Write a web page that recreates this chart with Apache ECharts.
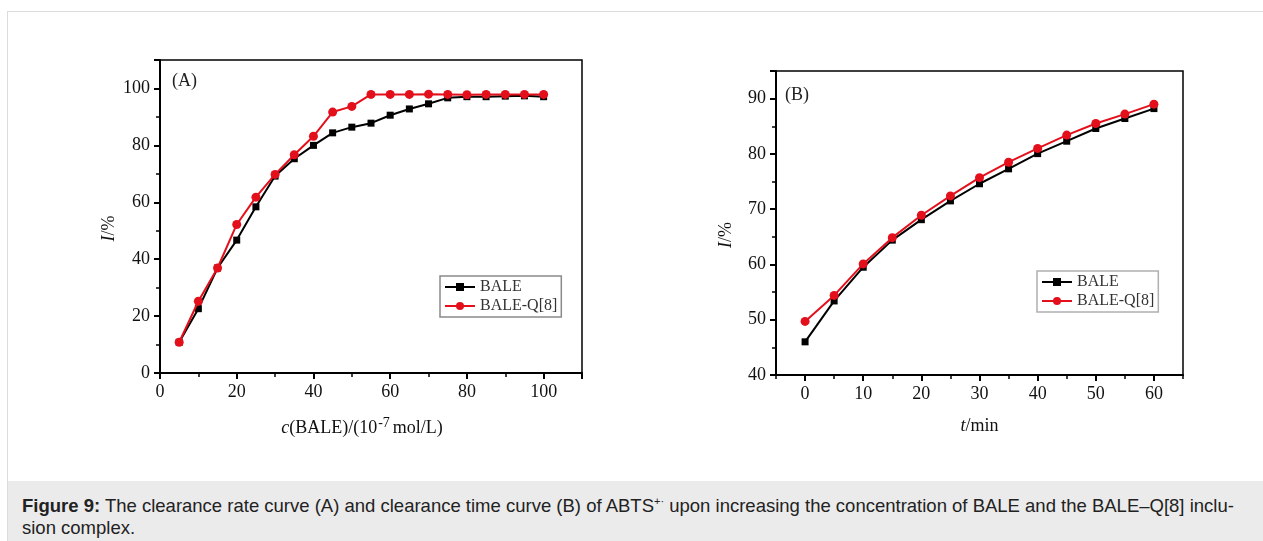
<!DOCTYPE html>
<html>
<head>
<meta charset="utf-8">
<script src="https://cdn.jsdelivr.net/npm/echarts@6/dist/echarts.min.js"></script>
<style>
  html, body { margin:0; padding:0; background:#fff; width:1263px; height:541px; overflow:hidden; }
  #frame { position:absolute; left:7px; top:11px; width:1256px; height:530px; border-top:1px solid #dcdcdc; border-left:1px solid #dcdcdc; box-sizing:border-box; }
  #chart { position:absolute; left:0; top:0; width:1263px; height:481px; }
  #caption { position:absolute; left:8px; top:481px; width:1255px; height:60px; background:#ebebeb;
    font-family:"Liberation Sans", Arial, sans-serif; font-size:18.5px; line-height:22px; color:#222;
    padding:14px 0 0 14px; box-sizing:border-box; white-space:nowrap; }
  #caption sup { font-size:11px; line-height:0; }
</style>
</head>
<body>
<div id="frame"></div>
<div id="chart"></div>
<div id="caption"><b>Figure 9:</b> The clearance rate curve (A) and clearance time curve (B) of ABTS<sup>+·</sup> upon increasing the concentration of BALE and the BALE–Q[8] inclu-<br>sion complex.</div>
<script>
// Panel A: concentration c(BALE) / (10^-7 mol/L)
const concA = [5,10,15,20,25,30,35,40,45,50,55,60,65,70,75,80,85,90,95,100];
const baleA = [10.8,22.6,36.9,46.7,58.4,69.2,75.3,80.0,84.4,86.4,87.8,90.6,92.8,94.6,96.7,97.1,97.1,97.3,97.4,97.1];
const baleQ8A = [10.8,25.2,36.9,52.2,61.8,69.8,76.7,83.2,91.7,93.7,97.9,97.9,97.9,98.0,97.9,97.8,97.9,97.9,97.9,97.9];
// Panel B: time t / min
const timeB = [0,5,10,15,20,25,30,35,40,45,50,55,60];
const baleB = [46.0,53.4,59.5,64.4,68.1,71.5,74.6,77.3,80.05,82.3,84.6,86.4,88.2];
const baleQ8B = [49.7,54.4,60.1,64.85,68.9,72.4,75.7,78.5,81.0,83.4,85.5,87.2,89.0];
const majorTicksB = [0,10,20,30,40,50,60];

const serif = '"Liberation Serif", "DejaVu Serif", serif';
const BLACK = '#000000';
const RED = '#e3101c';

function pairs(xs, ys) { return xs.map((x, i) => [x, ys[i]]); }

const chart = echarts.init(document.getElementById('chart'), null, {renderer:'canvas'});

const axisBase = {
  axisLine: { show:true, onZero:false, lineStyle:{ color:BLACK, width:2 } },
  axisTick: { show:true, length:6, lineStyle:{ color:BLACK, width:2 } },
  minorTick: { show:true, splitNumber:2, length:4, lineStyle:{ color:BLACK, width:1.5 } },
  splitLine: { show:false },
  axisLabel: { color:'#111', fontFamily:serif, fontSize:18, margin:10, showMaxLabel:false }
};

function merge(a, b) { return Object.assign({}, a, b); }

const option = {
  backgroundColor:'transparent',
  animation:false,
  grid: [
    { left:160, top:60, width:422, height:313, show:true, borderColor:BLACK, borderWidth:1.5, backgroundColor:'transparent' },
    { left:776, top:71, width:407, height:304, show:true, borderColor:BLACK, borderWidth:1.5, backgroundColor:'transparent' }
  ],
  xAxis: [
    merge(axisBase, {
      type:'value', gridIndex:0, min:0, max:110, interval:20,
      name:'{i|c}(BALE)/(10{sup|-7}mol/L)', nameLocation:'middle', nameGap:43,
      nameTextStyle:{ color:'#111', fontFamily:serif, fontSize:18, padding:[0,18,0,0],
        rich:{ i:{ fontStyle:'italic', fontFamily:serif, fontSize:18, color:'#111' },
               sup:{ fontFamily:serif, fontSize:14, color:'#111', verticalAlign:'top', padding:[0,3,10,1] } } }
    }),
    merge(axisBase, {
      type:'value', gridIndex:1, min:-5, max:65, interval:5,
      minorTick:{ show:false },
      axisTick:{ show:true, length:4, lineStyle:{ color:BLACK, width:1.5 } },
      axisLabel:{ color:'#111', fontFamily:serif, fontSize:18, margin:10,
        formatter: v => (v % 10 === 0 && v >= 0 && v <= 60) ? String(v) : '' },
      name:'{i|t}/min', nameLocation:'middle', nameGap:42,
      nameTextStyle:{ color:'#111', fontFamily:serif, fontSize:18,
        rich:{ i:{ fontStyle:'italic', fontFamily:serif, fontSize:18, color:'#111' } } }
    }),
    {
      type:'value', gridIndex:1, min:-5, max:65, position:'bottom',
      axisLine:{ show:false }, splitLine:{ show:false }, axisLabel:{ show:false },
      axisTick:{ show:true, length:6, customValues: majorTicksB, lineStyle:{ color:BLACK, width:2 } }
    }
  ],
  yAxis: [
    merge(axisBase, {
      type:'value', gridIndex:0, min:0, max:110, interval:20,
      name:'{i|I}/%', nameLocation:'middle', nameGap:42,
      nameTextStyle:{ color:'#111', fontFamily:serif, fontSize:18, padding:[0,24,0,0],
        rich:{ i:{ fontStyle:'italic', fontFamily:serif, fontSize:18, color:'#111' } } }
    }),
    merge(axisBase, {
      type:'value', gridIndex:1, min:40, max:95, interval:10,
      name:'{i|I}/%', nameLocation:'middle', nameGap:41,
      nameTextStyle:{ color:'#111', fontFamily:serif, fontSize:18, padding:[0,24,0,0],
        rich:{ i:{ fontStyle:'italic', fontFamily:serif, fontSize:18, color:'#111' } } }
    })
  ],
  legend: [
    { orient:'vertical', left:440, top:276, width:117, itemWidth:30, itemHeight:10, itemGap:3,
      padding:[3,4,3,4], borderColor:'#8a8a8a', borderWidth:1.5, backgroundColor:'#fff',
      textStyle:{ fontFamily:serif, fontSize:16, color:'#333' },
      data:['BALE','BALE-Q[8]'] },
    { orient:'vertical', left:1037, top:271, width:120, itemWidth:30, itemHeight:10, itemGap:3,
      padding:[3,4,3,4], borderColor:'#b0b0b0', borderWidth:1.5, backgroundColor:'#fff',
      textStyle:{ fontFamily:serif, fontSize:16, color:'#333' },
      data:['BALE','BALE-Q[8]'] }
  ],
  graphic: [
    { type:'text', left:172, top:72, style:{ text:'(A)', font:'18px ' + serif, fill:'#222' } },
    { type:'text', left:785, top:86, style:{ text:'(B)', font:'18px ' + serif, fill:'#222' } }
  ],
  series: [
    { name:'BALE', type:'line', xAxisIndex:0, yAxisIndex:0, data:pairs(concA, baleA),
      symbol:'rect', symbolSize:7, lineStyle:{ color:BLACK, width:2 }, itemStyle:{ color:BLACK }, z:2 },
    { name:'BALE-Q[8]', type:'line', xAxisIndex:0, yAxisIndex:0, data:pairs(concA, baleQ8A),
      symbol:'circle', symbolSize:9, lineStyle:{ color:RED, width:2 }, itemStyle:{ color:RED }, z:3 },
    { name:'BALE', type:'line', xAxisIndex:1, yAxisIndex:1, data:pairs(timeB, baleB),
      symbol:'rect', symbolSize:7, lineStyle:{ color:BLACK, width:2 }, itemStyle:{ color:BLACK }, z:2 },
    { name:'BALE-Q[8]', type:'line', xAxisIndex:1, yAxisIndex:1, data:pairs(timeB, baleQ8B),
      symbol:'circle', symbolSize:9, lineStyle:{ color:RED, width:2 }, itemStyle:{ color:RED }, z:3 }
  ]
};
chart.setOption(option);
</script>
</body>
</html>
